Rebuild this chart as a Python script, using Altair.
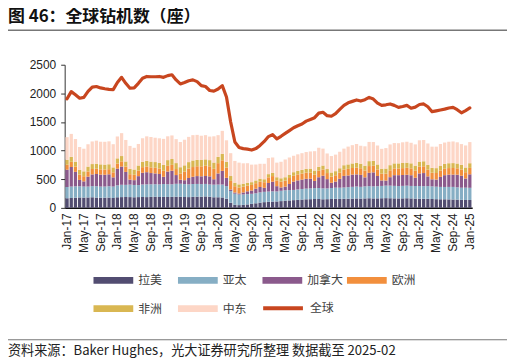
import altair as alt
import pandas as pd

MONTH_NAMES = ["Jan", "Feb", "Mar", "Apr", "May", "Jun", "Jul", "Aug", "Sep", "Oct", "Nov", "Dec"]
months = [f"{m}-{y}" for y in range(17, 26) for m in MONTH_NAMES][:97]
tick_labels = months[::4]

TITLE = "图 46：全球钻机数（座）"
FOOTER = "资料来源：Baker Hughes，光大证券研究所整理  数据截至 2025-02"

regions = ["拉美", "亚太", "加拿大", "欧洲", "非洲", "中东"]
colors = ["#524D71", "#86AEC4", "#8B5A8C", "#F28F3D", "#D9B752", "#FDD6C6"]

latam = [168, 172, 178, 182, 180, 182, 185, 180, 176, 178, 180, 172,
         185, 188, 190, 188, 185, 188, 190, 188, 192, 195, 190, 192,
         190, 192, 195, 193, 190, 188, 192, 196, 195, 200, 194, 185,
         185, 182, 160, 90, 55, 48, 52, 60, 70, 80, 92, 100,
         105, 110, 112, 118, 125, 130, 135, 140, 145, 150, 152, 155,
         155, 150, 152, 155, 158, 156, 158, 160, 162, 165, 162, 165,
         168, 165, 166, 168, 170, 168, 166, 165, 166, 168, 165, 162,
         160, 158, 158, 155, 152, 150, 150, 148, 146, 144, 140, 138,
         138]
apac = [196, 200, 198, 195, 192, 190, 195, 198, 196, 194, 198, 200,
        208, 215, 212, 218, 215, 210, 218, 222, 220, 218, 220, 225,
        222, 220, 225, 228, 225, 222, 225, 222, 220, 218, 215, 220,
        222, 225, 220, 205, 192, 185, 182, 180, 175, 175, 178, 180,
        180, 178, 175, 180, 182, 180, 178, 182, 185, 186, 188, 190,
        192, 190, 188, 192, 195, 196, 198, 202, 205, 208, 205, 210,
        212, 210, 212, 215, 218, 220, 218, 216, 218, 220, 218, 220,
        222, 220, 222, 220, 218, 216, 215, 218, 220, 215, 212, 215,
        212]
canada = [302, 342, 253, 111, 91, 173, 204, 213, 209, 206, 208, 161,
          292, 318, 226, 87, 84, 156, 205, 213, 196, 189, 181, 126,
          222, 237, 153, 71, 68, 112, 126, 137, 136, 139, 141, 95,
          194, 239, 145, 26, 21, 18, 35, 49, 58, 81, 94, 70,
          149, 169, 92, 59, 63, 107, 146, 158, 164, 171, 170, 125,
          189, 222, 162, 91, 106, 156, 202, 204, 214, 212, 209, 158,
          232, 245, 179, 96, 89, 148, 187, 190, 190, 190, 187, 144,
          220, 230, 170, 124, 124, 175, 206, 215, 215, 220, 209, 160,
          236]
europe = [87, 90, 92, 93, 90, 92, 95, 93, 92, 90, 90, 88,
          90, 92, 92, 95, 94, 96, 98, 100, 100, 98, 98, 105,
          100, 102, 105, 110, 150, 165, 170, 172, 175, 178, 176, 182,
          180, 185, 180, 150, 110, 105, 102, 100, 98, 95, 96, 98,
          100, 98, 100, 102, 105, 104, 102, 105, 106, 108, 108, 112,
          112, 108, 106, 108, 110, 110, 112, 115, 115, 118, 116, 120,
          118, 116, 115, 118, 120, 120, 118, 118, 120, 122, 120, 122,
          118, 118, 116, 115, 115, 112, 112, 114, 115, 112, 110, 110,
          112]
africa = [87, 88, 86, 84, 85, 84, 86, 88, 87, 88, 86, 86,
          90, 92, 90, 94, 92, 90, 95, 98, 100, 100, 98, 102,
          100, 102, 104, 108, 110, 112, 115, 112, 110, 112, 108, 110,
          110, 112, 100, 85, 62, 55, 52, 50, 48, 48, 50, 52,
          55, 55, 56, 58, 60, 60, 62, 62, 64, 66, 68, 70,
          72, 70, 70, 72, 72, 74, 75, 78, 80, 82, 80, 84,
          86, 85, 86, 88, 90, 90, 88, 88, 90, 90, 88, 90,
          88, 88, 86, 86, 85, 85, 84, 85, 86, 84, 82, 82,
          82]
mideast = [395, 400, 395, 398, 395, 390, 395, 402, 395, 398, 400, 405,
           382, 400, 376, 400, 379, 376, 410, 428, 430, 425, 428, 455,
           416, 412, 418, 440, 447, 441, 442, 436, 424, 423, 411, 458,
           379, 402, 375, 399, 380, 379, 355, 341, 306, 278, 260, 270,
           281, 270, 255, 288, 310, 299, 287, 288, 291, 294, 299, 338,
           330, 295, 272, 287, 289, 288, 290, 311, 319, 330, 313, 338,
           336, 329, 331, 346, 357, 362, 355, 353, 361, 365, 359, 371,
           372, 371, 373, 369, 375, 377, 374, 375, 378, 370, 361, 385,
           369]
global_total = [1905, 2030, 1975, 1915, 1930, 2035, 2110, 2120, 2095, 2080, 2070, 2065,
                2190, 2280, 2175, 2090, 2095, 2175, 2265, 2295, 2290, 2290, 2295, 2280,
                2310, 2325, 2235, 2165, 2190, 2220, 2235, 2205, 2135, 2120, 2050, 2040,
                2075, 2135, 1935, 1500, 1150, 1055, 1035, 1025, 1010, 1035, 1090, 1160,
                1245, 1280, 1205, 1250, 1300, 1350, 1400, 1435, 1465, 1515, 1545, 1575,
                1655, 1670, 1610, 1600, 1645, 1720, 1790, 1835, 1860, 1885, 1865, 1890,
                1930, 1900, 1830, 1790, 1800, 1815, 1790, 1755, 1770, 1790, 1740, 1760,
                1805, 1815, 1765, 1680, 1695, 1710, 1725, 1745, 1755, 1715, 1660, 1700,
                1745]

series = [latam, apac, canada, europe, africa, mideast]
rows = []
for i, m in enumerate(months):
    for k, (r, vals) in enumerate(zip(regions, series)):
        rows.append({"month": m, "region": r, "ord": k, "value": vals[i]})
bars_df = pd.DataFrame(rows)
line_df = pd.DataFrame({"month": months, "series": "全球", "total": global_total})

AX_FONT = "Liberation Sans"
CJK = "Noto Sans CJK SC"

x_enc = alt.X(
    "month:N", sort=months,
    scale=alt.Scale(paddingInner=0.22, paddingOuter=0.18),
    axis=alt.Axis(values=tick_labels, labelAngle=270, labelAlign="right", labelBaseline="middle",
                  title=None, ticks=False, labelPadding=5, labelFont=AX_FONT, labelFontSize=12,
                  labelColor="#222222", domainColor="#111111", domainWidth=1.5, grid=False),
)
y_scale = alt.Scale(domain=[0, 2500], nice=False)
y_axis = alt.Axis(values=[0, 500, 1000, 1500, 2000, 2500], format="d", labelOverlap=False,
                  title=None, grid=False,
                  labelFont=AX_FONT, labelFontSize=12, labelColor="#222222",
                  domainColor="#333333", tickColor="#333333", tickSize=4, labelPadding=5)

bars = alt.Chart(bars_df).mark_bar().encode(
    x=x_enc,
    y=alt.Y("value:Q", stack="zero", scale=y_scale, axis=y_axis),
    fill=alt.Fill("region:N", scale=alt.Scale(domain=regions, range=colors),
                  legend=alt.Legend(title=None, orient="none", legendX=29, legendY=207,
                                    direction="horizontal", columns=4, gridAlign="all",
                                    symbolType="M-1,-0.34L3,-0.34L3,0.34L-1,0.34Z",
                                    symbolSize=400, symbolStrokeWidth=0,
                                    labelFont=CJK, labelFontSize=12, labelColor="#404040",
                                    labelOffset=25, columnPadding=3, rowPadding=12.4,
                                    padding=0)),
    order=alt.Order("ord:Q", sort="ascending"),
)

line = alt.Chart(line_df).mark_line(strokeWidth=3.2, strokeJoin="round", strokeCap="round").encode(
    x=alt.X("month:N", sort=months, bandPosition=0.5),
    y=alt.Y("total:Q", scale=y_scale, axis=y_axis),
    stroke=alt.Stroke("series:N", scale=alt.Scale(domain=["全球"], range=["#C8461F"]),
                      legend=alt.Legend(title=None, orient="none", legendX=197.7, legendY=233,
                                        direction="horizontal",
                                        symbolType="M-1,0L3,0", symbolSize=400,
                                        symbolStrokeWidth=4,
                                        labelFont=CJK, labelFontSize=12, labelColor="#404040",
                                        labelOffset=25, padding=0)),
)

deco_df = pd.DataFrame({"t": [TITLE], "f": [FOOTER]})
title_layer = alt.Chart(deco_df).mark_text(
    align="left", baseline="middle", font=CJK, fontSize=17, fontWeight="bold", color="#111111"
).encode(x=alt.value(-57), y=alt.value(-47.5), text="t:N")
footer_layer = alt.Chart(deco_df).mark_text(
    align="left", baseline="middle", font=CJK, fontSize=13.2, color="#222222"
).encode(x=alt.value(-57), y=alt.value(288), text="f:N")
rule_top = alt.Chart(deco_df).mark_rule(color="#777777", strokeWidth=1.5).encode(
    x=alt.value(-57), x2=alt.value(445), y=alt.value(-34.7))
rule_bottom = alt.Chart(deco_df).mark_rule(color="#777777", strokeWidth=1.2).encode(
    x=alt.value(-57), x2=alt.value(445), y=alt.value(276.7))

chart = alt.layer(bars, line, rule_top, rule_bottom, title_layer, footer_layer).properties(
    width=410, height=144,
    padding={"left": 57, "top": 56, "right": 35, "bottom": 155},
    autosize=alt.AutoSizeParams(type="none"),
).configure_view(stroke=None)

chart.save("out.html", embed_options={"renderer": "svg", "actions": False})
